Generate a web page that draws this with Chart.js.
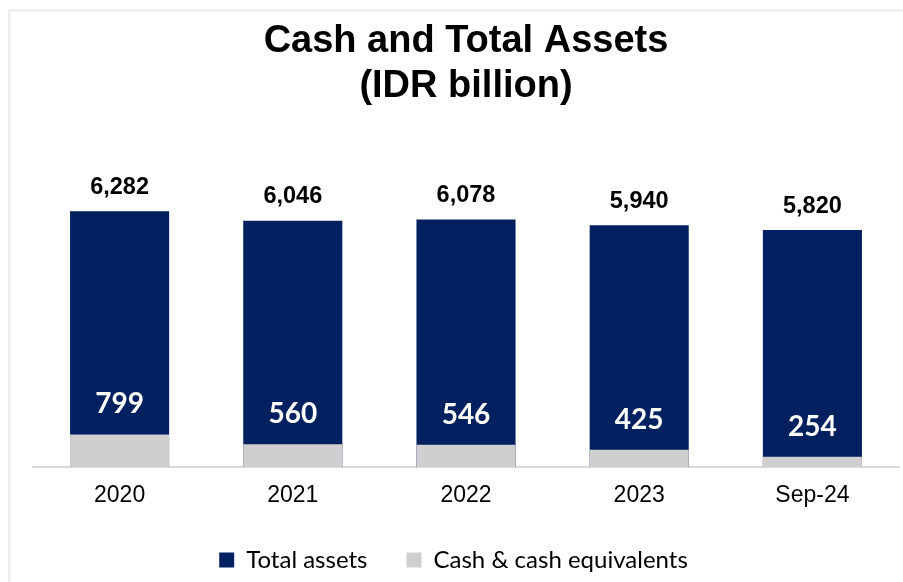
<!DOCTYPE html>
<html><head><meta charset="utf-8">
<script src="https://cdn.jsdelivr.net/npm/chart.js@4.4.1/dist/chart.umd.min.js"></script>
<style>
html,body{margin:0;padding:0;background:#fff;}
#wrap{position:relative;width:903px;height:582px;overflow:hidden;}
#frame{position:absolute;left:8px;top:9px;width:910px;height:590px;border-top:3px solid #f0f0f0;border-left:3px solid #f0f0f0;}
canvas{position:absolute;left:0;top:0;}
</style></head><body>
<div id="wrap"><div id="frame"></div><canvas id="c" width="903" height="582"></canvas></div>
<script>
const categories = ['2020', '2021', '2022', '2023', 'Sep-24'];
const totalAssets = [6282, 6046, 6078, 5940, 5820];
const cashEquivalents = [799, 560, 546, 425, 254];
const seriesNames = ['Total assets', 'Cash & cash equivalents'];
const titleLines = ['Cash and Total Assets', '(IDR billion)'];
const yMax = 7000;

const NAVY = '#002060';
const GREY = '#d0cece';
const fmt = v => v.toLocaleString('en-US');

const labelPlugin = {
  id: 'valueLabels',
  afterDatasetsDraw(chart) {
    const ctx = chart.ctx;
    const metaCash = chart.getDatasetMeta(0);
    const metaTotal = chart.getDatasetMeta(1);
    ctx.save();
    ctx.textAlign = 'center';
    ctx.textBaseline = 'middle';
    ctx.fillStyle = '#000';
    ctx.font = 'bold 23.5px "Liberation Sans", Arial, sans-serif';
    metaTotal.data.forEach((bar, i) => {
      ctx.fillText(fmt(totalAssets[i]), bar.x, bar.y - 24);
    });
    ctx.fillStyle = '#fff';
    ctx.font = 'bold 28px Lato, "Open Sans", sans-serif';
    metaCash.data.forEach((bar, i) => {
      ctx.fillText(fmt(cashEquivalents[i]), bar.x, bar.y - 30);
    });
    ctx.restore();
  }
};

new Chart(document.getElementById('c'), {
  type: 'bar',
  data: {
    labels: categories,
    datasets: [
      { label: seriesNames[1], data: cashEquivalents, backgroundColor: GREY, borderWidth: 0, order: 0,
        grouped: false, barPercentage: 0.572, categoryPercentage: 1 },
      { label: seriesNames[0], data: totalAssets, backgroundColor: NAVY, borderWidth: 0, order: 1,
        grouped: false, barPercentage: 0.572, categoryPercentage: 1 }
    ]
  },
  options: {
    responsive: false,
    animation: false,
    layout: { padding: { left: 8, right: 4, top: 0, bottom: 0 } },
    plugins: {
      title: {
        display: true,
        fullSize: false,
        text: titleLines,
        color: '#000',
        font: { family: '"Liberation Sans", Arial, sans-serif', size: 38, weight: 'bold', lineHeight: 1.184 },
        padding: { top: 19, bottom: 73 }
      },
      legend: {
        display: true,
        position: 'bottom',
        reverse: true,
        labels: {
          boxWidth: 15, boxHeight: 15,
          padding: 39,
          color: '#000',
          font: { family: 'Lato, "Open Sans", sans-serif', size: 24 }
        }
      },
      tooltip: { enabled: false }
    },
    scales: {
      x: {
        grid: { display: false, drawTicks: true, tickLength: 16 },
        border: { display: true, color: '#d9d9d9', width: 2 },
        ticks: { color: '#000', padding: 1.5, font: { family: '"Liberation Sans", Arial, sans-serif', size: 23, lineHeight: 1 } }
      },
      y: {
        min: 0, max: yMax,
        grid: { display: false, drawTicks: false },
        border: { display: false },
        ticks: { display: false },
        afterFit: s => { s.width = 25; }
      }
    }
  },
  plugins: [labelPlugin]
});
</script>
</body></html>
